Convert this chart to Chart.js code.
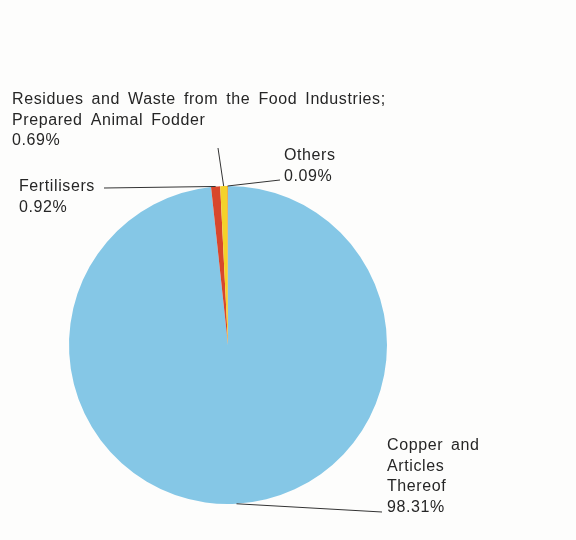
<!DOCTYPE html>
<html>
<head>
<meta charset="utf-8">
<script src="https://cdn.jsdelivr.net/npm/chart.js@4/dist/chart.umd.min.js"></script>
<style>
  html, body { margin: 0; padding: 0; background: #fdfdfc; }
  #wrap { width: 576px; height: 540px; position: relative; }
</style>
</head>
<body>
<div id="wrap"><canvas id="c" width="576" height="540"></canvas></div>
<script>
// ---- data ----
const categories = [
  'Copper and Articles Thereof',
  'Fertilisers',
  'Residues and Waste from the Food Industries; Prepared Animal Fodder',
  'Others'
];
const shares = [98.31, 0.92, 0.69, 0.09];
const labelLines = [
  ['Copper and', 'Articles', 'Thereof'],
  ['Fertilisers'],
  ['Residues and Waste from the Food Industries;', 'Prepared Animal Fodder'],
  ['Others']
];
const sliceColors = ['#85C7E6', '#D8472C', '#F4D22A', '#E8A33A'];

// ---- layout for callouts (text baselines and leader-line ends) ----
const callouts = [
  { text: { x: 387, y: 450, lh: 20.7 }, end: { x: 382, y: 512 } },
  { text: { x: 19, y: 191, lh: 20.7 }, end: { x: 104, y: 188 } },
  { text: { x: 12, y: 104, lh: 20.7 }, end: { x: 218, y: 148 } },
  { text: { x: 284, y: 160, lh: 20.5 }, end: { x: 280, y: 180 } }
];

const calloutPlugin = {
  id: 'callouts',
  afterDraw(chart) {
    const ctx = chart.ctx;
    const meta = chart.getDatasetMeta(0);
    ctx.save();
    ctx.strokeStyle = '#333333';
    ctx.lineWidth = 1;
    ctx.fillStyle = '#262626';
    ctx.font = '16px "Liberation Sans", Arial, sans-serif';
    if ('letterSpacing' in ctx) ctx.letterSpacing = '0.6px';
    if ('wordSpacing' in ctx) ctx.wordSpacing = '3px';
    ctx.textBaseline = 'alphabetic';
    ctx.textAlign = 'left';
    meta.data.forEach((arc, i) => {
      const p = arc.getProps(['x', 'y', 'startAngle', 'endAngle', 'outerRadius'], true);
      const mid = (p.startAngle + p.endAngle) / 2;
      const sx = p.x + Math.cos(mid) * p.outerRadius;
      const sy = p.y + Math.sin(mid) * p.outerRadius;
      const c = callouts[i];
      ctx.beginPath();
      ctx.moveTo(sx, sy);
      ctx.lineTo(c.end.x, c.end.y);
      ctx.stroke();
      const lines = labelLines[i].concat([shares[i].toFixed(2) + '%']);
      lines.forEach((t, k) => {
        ctx.fillText(t, c.text.x, c.text.y + k * c.text.lh);
      });
    });
    ctx.restore();
  }
};

new Chart(document.getElementById('c'), {
  type: 'pie',
  data: {
    labels: categories,
    datasets: [{
      data: shares,
      backgroundColor: sliceColors,
      borderWidth: 0
    }]
  },
  options: {
    responsive: false,
    animation: false,
    rotation: 0,
    layout: { padding: { left: 69, right: 189, top: 186, bottom: 36 } },
    plugins: {
      legend: { display: false },
      tooltip: { enabled: false },
      title: { display: false }
    }
  },
  plugins: [calloutPlugin]
});
</script>
</body>
</html>
